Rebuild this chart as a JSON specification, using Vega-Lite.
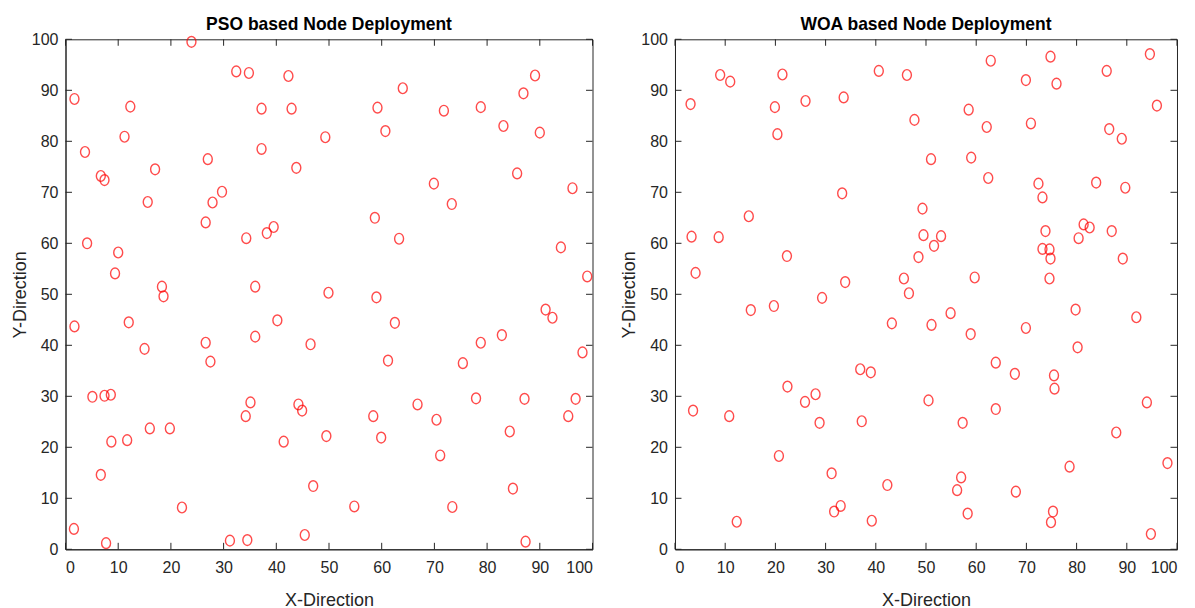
{
  "$schema": "https://vega.github.io/schema/vega-lite/v6.json",
  "padding": {"left": 10.5, "top": 15.3, "right": 5, "bottom": 0},
  "background": "white",
  "datasets": {
    "pso": [
      {"x":23.9,"y":99.5},{"x":32.4,"y":93.7},{"x":34.8,"y":93.4},{"x":42.3,"y":92.8},{"x":1.7,"y":88.3},{"x":12.3,"y":86.8},{"x":37.2,"y":86.4},{"x":42.9,"y":86.4},{"x":11.2,"y":80.9},{"x":49.3,"y":80.8},
      {"x":3.7,"y":77.9},{"x":37.2,"y":78.5},{"x":27.0,"y":76.5},{"x":17.0,"y":74.5},{"x":43.8,"y":74.8},{"x":6.7,"y":73.2},{"x":7.4,"y":72.4},{"x":29.7,"y":70.1},{"x":15.6,"y":68.1},{"x":27.9,"y":68.0},
      {"x":26.6,"y":64.1},{"x":39.5,"y":63.2},{"x":38.2,"y":62.0},{"x":34.3,"y":61.0},{"x":4.1,"y":60.0},{"x":10.0,"y":58.2},{"x":9.4,"y":54.1},{"x":18.3,"y":51.5},{"x":18.6,"y":49.6},{"x":36.0,"y":51.5},
      {"x":49.9,"y":50.3},{"x":89.1,"y":92.9},{"x":64.0,"y":90.4},{"x":86.9,"y":89.4},{"x":59.2,"y":86.6},{"x":71.8,"y":86.0},{"x":78.8,"y":86.7},{"x":83.1,"y":83.0},{"x":60.7,"y":82.0},{"x":90.0,"y":81.7},
      {"x":85.7,"y":73.7},{"x":69.9,"y":71.7},{"x":96.2,"y":70.8},{"x":73.3,"y":67.7},{"x":58.7,"y":65.0},{"x":63.3,"y":60.9},{"x":94.0,"y":59.2},{"x":99.0,"y":53.5},{"x":59.0,"y":49.4},{"x":1.7,"y":43.7},
      {"x":12.0,"y":44.5},{"x":15.0,"y":39.3},{"x":26.6,"y":40.5},{"x":27.5,"y":36.8},{"x":40.2,"y":44.9},{"x":36.0,"y":41.7},{"x":46.5,"y":40.2},{"x":5.1,"y":29.9},{"x":7.4,"y":30.1},{"x":8.6,"y":30.3},
      {"x":35.1,"y":28.8},{"x":34.2,"y":26.1},{"x":44.2,"y":28.4},{"x":44.9,"y":27.2},{"x":16.0,"y":23.7},{"x":19.8,"y":23.7},{"x":8.7,"y":21.1},{"x":11.7,"y":21.4},{"x":41.4,"y":21.1},{"x":49.5,"y":22.2},
      {"x":6.7,"y":14.6},{"x":47.0,"y":12.4},{"x":22.1,"y":8.2},{"x":1.6,"y":4.0},{"x":7.7,"y":1.2},{"x":31.2,"y":1.7},{"x":34.5,"y":1.8},{"x":45.4,"y":2.8},{"x":62.5,"y":44.4},{"x":91.1,"y":47.0},
      {"x":92.4,"y":45.4},{"x":82.8,"y":42.0},{"x":78.8,"y":40.5},{"x":98.1,"y":38.6},{"x":61.2,"y":37.0},{"x":75.4,"y":36.5},{"x":66.8,"y":28.4},{"x":77.9,"y":29.6},{"x":87.1,"y":29.5},{"x":96.8,"y":29.5},
      {"x":58.4,"y":26.1},{"x":70.4,"y":25.4},{"x":95.4,"y":26.1},{"x":84.3,"y":23.1},{"x":59.9,"y":21.9},{"x":71.1,"y":18.4},{"x":84.9,"y":11.9},{"x":54.8,"y":8.4},{"x":73.4,"y":8.3},{"x":87.3,"y":1.5}
    ],
    "woa": [
      {"x":9.0,"y":93.0},{"x":11.0,"y":91.7},{"x":21.4,"y":93.1},{"x":40.6,"y":93.8},{"x":46.2,"y":93.0},{"x":3.1,"y":87.3},{"x":19.9,"y":86.7},{"x":26.0,"y":87.9},{"x":33.6,"y":88.6},{"x":20.4,"y":81.4},
      {"x":47.7,"y":84.2},{"x":51.0,"y":76.5},{"x":33.3,"y":69.8},{"x":49.3,"y":66.8},{"x":14.7,"y":65.3},{"x":3.3,"y":61.3},{"x":8.7,"y":61.2},{"x":49.5,"y":61.6},{"x":53.0,"y":61.4},{"x":51.6,"y":59.5},
      {"x":22.3,"y":57.5},{"x":48.5,"y":57.3},{"x":4.1,"y":54.2},{"x":33.9,"y":52.4},{"x":45.6,"y":53.1},{"x":46.6,"y":50.2},{"x":29.3,"y":49.3},{"x":62.9,"y":95.8},{"x":74.8,"y":96.6},{"x":94.6,"y":97.1},
      {"x":86.0,"y":93.8},{"x":69.9,"y":92.0},{"x":76.0,"y":91.3},{"x":96.0,"y":87.0},{"x":58.5,"y":86.2},{"x":62.1,"y":82.8},{"x":70.9,"y":83.5},{"x":86.5,"y":82.4},{"x":89.0,"y":80.5},{"x":59.0,"y":76.8},
      {"x":62.4,"y":72.8},{"x":72.4,"y":71.7},{"x":83.9,"y":71.9},{"x":89.7,"y":70.9},{"x":73.2,"y":69.0},{"x":73.8,"y":62.4},{"x":81.4,"y":63.7},{"x":82.6,"y":63.1},{"x":87.0,"y":62.4},{"x":80.4,"y":61.0},
      {"x":73.2,"y":58.9},{"x":74.6,"y":58.8},{"x":74.8,"y":57.0},{"x":89.2,"y":57.0},{"x":59.7,"y":53.3},{"x":74.6,"y":53.1},{"x":15.1,"y":46.9},{"x":19.7,"y":47.7},{"x":43.2,"y":44.3},{"x":51.1,"y":44.0},
      {"x":36.9,"y":35.3},{"x":39.0,"y":34.7},{"x":22.4,"y":31.9},{"x":28.0,"y":30.4},{"x":25.9,"y":28.9},{"x":3.6,"y":27.2},{"x":10.8,"y":26.1},{"x":28.8,"y":24.8},{"x":37.2,"y":25.1},{"x":50.5,"y":29.2},
      {"x":20.7,"y":18.3},{"x":31.2,"y":14.9},{"x":42.3,"y":12.6},{"x":33.0,"y":8.5},{"x":31.7,"y":7.4},{"x":12.3,"y":5.4},{"x":39.2,"y":5.6},{"x":54.9,"y":46.3},{"x":58.9,"y":42.2},{"x":69.9,"y":43.4},
      {"x":79.8,"y":47.0},{"x":80.2,"y":39.6},{"x":91.9,"y":45.5},{"x":63.9,"y":36.6},{"x":67.7,"y":34.4},{"x":75.5,"y":34.1},{"x":75.6,"y":31.5},{"x":63.9,"y":27.5},{"x":94.0,"y":28.8},{"x":57.3,"y":24.8},
      {"x":87.9,"y":22.9},{"x":78.6,"y":16.2},{"x":98.1,"y":16.9},{"x":57.0,"y":14.1},{"x":56.2,"y":11.6},{"x":67.9,"y":11.3},{"x":58.3,"y":7.0},{"x":75.3,"y":7.4},{"x":74.9,"y":5.3},{"x":94.8,"y":3.0}
    ],
    "ticks": [
      {"v":0},{"v":10},{"v":20},{"v":30},{"v":40},{"v":50},{"v":60},{"v":70},{"v":80},{"v":90},{"v":100}
    ]
  },
  "config": {
    "font": "Liberation Sans",
    "view": {"stroke": "#262626", "strokeWidth": 1},
    "axis": {
      "grid": false,
      "ticks": false,
      "domainColor": "#262626",
      "labelColor": "#262626",
      "titleColor": "#262626",
      "labelFont": "Liberation Sans",
      "titleFont": "Liberation Sans",
      "labelFontSize": 16,
      "titleFontSize": 18,
      "titleFontWeight": "normal",
      "domainWidth": 1
    },
    "rule": {"color": "#262626", "strokeWidth": 1},
    "title": {"font": "Liberation Sans", "fontSize": 17.5, "fontWeight": "bold", "color": "#000000", "offset": -2, "anchor": "middle"}
  },
  "hconcat": [
    {
      "width": 527,
      "height": 510,
      "title": "PSO based Node Deployment",
      "layer": [
        {
          "data": {"name": "pso"},
          "mark": {"type": "point", "shape": "M0,-1.2A1,1.2,0,1,1,0,1.2A1,1.2,0,1,1,0,-1.2Z", "filled": false, "stroke": "#ff0000", "strokeWidth": 1.4, "size": 80},
          "encoding": {
            "x": {"field": "x", "type": "quantitative", "scale": {"domain": [0, 100], "nice": false, "zero": false},
                  "axis": {"orient": "bottom", "title": "X-Direction", "values": [0, 10, 20, 30, 40, 50, 60, 70, 80, 90, 100], "labelPadding": 10.5, "titlePadding": 16}},
            "y": {"field": "y", "type": "quantitative", "scale": {"domain": [0, 100], "nice": false, "zero": false},
                  "axis": {"orient": "left", "title": "Y-Direction", "values": [0, 10, 20, 30, 40, 50, 60, 70, 80, 90, 100], "labelPadding": 7.5, "titlePadding": 2}}
          }
        },
        {
          "data": {"name": "ticks"},
          "mark": {"type": "rule"},
          "encoding": {
            "x": {"field": "v", "type": "quantitative"},
            "y": {"datum": 0, "type": "quantitative"},
            "y2": {"datum": 1.27}
          }
        },
        {
          "data": {"name": "ticks"},
          "mark": {"type": "rule"},
          "encoding": {
            "x": {"field": "v", "type": "quantitative"},
            "y": {"datum": 100, "type": "quantitative"},
            "y2": {"datum": 98.73}
          }
        },
        {
          "data": {"name": "ticks"},
          "mark": {"type": "rule"},
          "encoding": {
            "y": {"field": "v", "type": "quantitative"},
            "x": {"datum": 0, "type": "quantitative"},
            "x2": {"datum": 1.23}
          }
        },
        {
          "data": {"name": "ticks"},
          "mark": {"type": "rule"},
          "encoding": {
            "y": {"field": "v", "type": "quantitative"},
            "x": {"datum": 100, "type": "quantitative"},
            "x2": {"datum": 98.77}
          }
        }
      ]
    },
    {
      "width": 502,
      "height": 510,
      "title": "WOA based Node Deployment",
      "layer": [
        {
          "data": {"name": "woa"},
          "mark": {"type": "point", "shape": "M0,-1.2A1,1.2,0,1,1,0,1.2A1,1.2,0,1,1,0,-1.2Z", "filled": false, "stroke": "#ff0000", "strokeWidth": 1.4, "size": 80},
          "encoding": {
            "x": {"field": "x", "type": "quantitative", "scale": {"domain": [0, 100], "nice": false, "zero": false},
                  "axis": {"orient": "bottom", "title": "X-Direction", "values": [0, 10, 20, 30, 40, 50, 60, 70, 80, 90, 100], "labelPadding": 10.5, "titlePadding": 16}},
            "y": {"field": "y", "type": "quantitative", "scale": {"domain": [0, 100], "nice": false, "zero": false},
                  "axis": {"orient": "left", "title": "Y-Direction", "values": [0, 10, 20, 30, 40, 50, 60, 70, 80, 90, 100], "labelPadding": 7.5, "titlePadding": 2}}
          }
        },
        {
          "data": {"name": "ticks"},
          "mark": {"type": "rule"},
          "encoding": {
            "x": {"field": "v", "type": "quantitative"},
            "y": {"datum": 0, "type": "quantitative"},
            "y2": {"datum": 1.27}
          }
        },
        {
          "data": {"name": "ticks"},
          "mark": {"type": "rule"},
          "encoding": {
            "x": {"field": "v", "type": "quantitative"},
            "y": {"datum": 100, "type": "quantitative"},
            "y2": {"datum": 98.73}
          }
        },
        {
          "data": {"name": "ticks"},
          "mark": {"type": "rule"},
          "encoding": {
            "y": {"field": "v", "type": "quantitative"},
            "x": {"datum": 0, "type": "quantitative"},
            "x2": {"datum": 1.29}
          }
        },
        {
          "data": {"name": "ticks"},
          "mark": {"type": "rule"},
          "encoding": {
            "y": {"field": "v", "type": "quantitative"},
            "x": {"datum": 100, "type": "quantitative"},
            "x2": {"datum": 98.71}
          }
        }
      ]
    }
  ],
  "spacing": 82.5,
  "bounds": "flush"
}
